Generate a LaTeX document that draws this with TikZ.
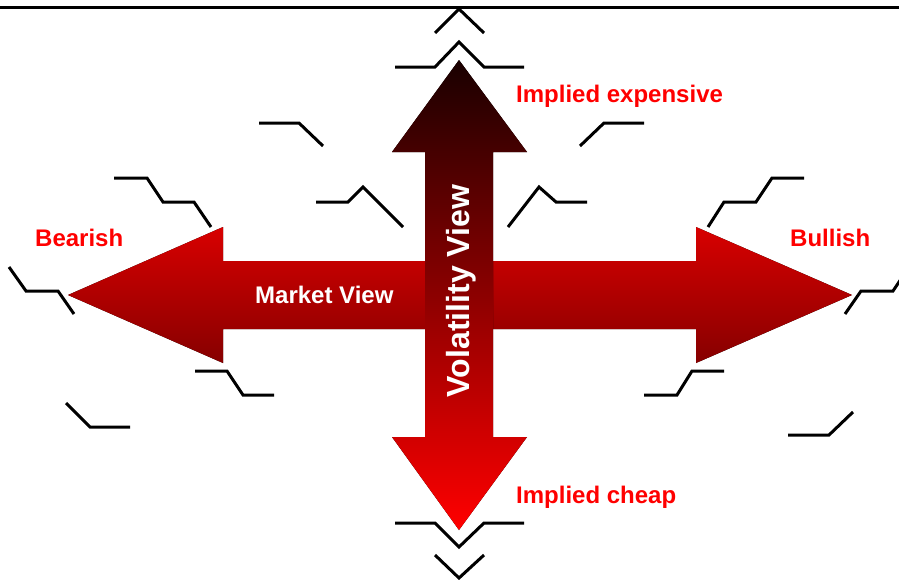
\documentclass[tikz,border=0pt]{standalone}
\usepackage{fontspec}
\setmainfont{Liberation Sans}
\usepackage{tikz}
\definecolor{volTop}{RGB}{25,0,0}
\definecolor{volMid}{RGB}{180,0,0}
\definecolor{volBot}{RGB}{255,0,0}
\definecolor{mktTop}{RGB}{216,0,0}
\definecolor{mktBot}{RGB}{134,0,0}
\tikzset{kink/.style={draw=black, line width=3pt},
viewlabel/.style={text=white, font=\bfseries\fontsize{24}{28}\selectfont, inner sep=0pt, anchor=base west},
sidelabel/.style={text=red, font=\bfseries\fontsize{24}{28}\selectfont, inner sep=0pt, anchor=base west}}

\begin{document}
\begin{tikzpicture}[x=1pt,y=-1pt]
			\useasboundingbox (0,0) rectangle (899,579);
			\draw [line width=2.3pt] (0,7.5) -- (899,7.5);
			% market view, left to right
			\fill [top color=mktTop, bottom color=mktBot] (68,295) -- (223,227) -- (223,261) -- (696,261) -- (696,227) -- (852,295) -- (696,363) -- (696,329) -- (223,329) -- (223,363) -- cycle;
			% volatility view, top to bottom
			\fill [top color=volTop, middle color=volMid, bottom color=volBot] (459,60) -- (527,152) -- (493,152) -- (493,437) -- (527,437) -- (459,530) -- (392,437) -- (425,437) -- (425,152) -- (392,152) -- cycle;
			\node [viewlabel] (market) at (255,303) {Market View};
			\node [viewlabel, anchor=base, rotate=90, font=\bfseries\fontsize{32}{36}\selectfont] (vol) at (469,291) {Volatility View};
			\node [sidelabel] (bearish) at (35,246) {Bearish};
			\node [sidelabel] (bullish) at (790,246) {Bullish};
			\node [sidelabel] (expensive) at (516,102) {Implied expensive};
			\node [sidelabel] (cheap) at (516,503) {Implied cheap};
			% payoff sketches
			\draw [kink] (435,33) -- (459,9) -- (484,33);
			\draw [kink] (395,67) -- (435,67) -- (459,42) -- (484,67) -- (524,67);
			\draw [kink] (395,523) -- (435,523) -- (459,547) -- (484,523) -- (524,523);
			\draw [kink] (435,555) -- (459,578) -- (484,555);
			\draw [kink] (114,178) -- (147,178) -- (163,202) -- (194,202) -- (211,227);
			\draw [kink] (259,123) -- (299,123) -- (323,146);
			\draw [kink] (316,202) -- (348,202) -- (363,187) -- (403,227);
			\draw [kink] (9,267) -- (26,291) -- (58,291) -- (74,314);
			\draw [kink] (195,371) -- (227,371) -- (243,395) -- (274,395);
			\draw [kink] (66,403) -- (90,427) -- (130,427);
			\draw [kink] (580,146) -- (604,123) -- (644,123);
			\draw [kink] (508,227) -- (539,187) -- (556,202) -- (587,202);
			\draw [kink] (708,227) -- (724,202) -- (756,202) -- (772,178) -- (804,178);
			\draw [kink] (845,314) -- (861,291) -- (893,291) -- (909,267);
			\draw [kink] (644,395) -- (677,395) -- (692,371) -- (724,371);
			\draw [kink] (788,435) -- (829,435) -- (853,412);
		\end{tikzpicture}
\end{document}
